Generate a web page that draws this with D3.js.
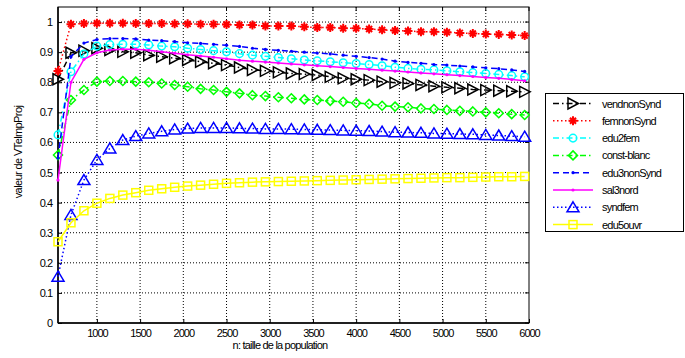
<!DOCTYPE html>
<html>
<head>
<meta charset="utf-8">
<script src="https://cdn.jsdelivr.net/npm/d3@7"></script>
<style>
  html, body { margin: 0; padding: 0; background: #fff; }
  svg { display: block; }
  text { font-family: "Liberation Sans", Arial, sans-serif; fill: #000; }
</style>
</head>
<body>
<svg id="chart" width="685" height="358"></svg>
<script>
// ---------- data ----------
const nValues = [550, 700, 850, 1000, 1150, 1300, 1450, 1600, 1750, 1900, 2050, 2200, 2350, 2500, 2650, 2800, 2950, 3100, 3250, 3400, 3550, 3700, 3850, 4000, 4150, 4300, 4450, 4600, 4750, 4900, 5050, 5200, 5350, 5500, 5650, 5800, 5950];

const vendnonSynd = [0.810, 0.898, 0.905, 0.913, 0.907, 0.901, 0.898, 0.890, 0.885, 0.880, 0.874, 0.868, 0.863, 0.857, 0.849, 0.841, 0.838, 0.833, 0.829, 0.827, 0.824, 0.818, 0.813, 0.810, 0.807, 0.802, 0.798, 0.796, 0.791, 0.787, 0.783, 0.780, 0.776, 0.774, 0.772, 0.770, 0.768];
const femnonSynd = [0.837, 0.993, 0.995, 0.996, 0.996, 0.996, 0.995, 0.995, 0.995, 0.994, 0.994, 0.993, 0.993, 0.992, 0.990, 0.990, 0.987, 0.987, 0.987, 0.984, 0.982, 0.982, 0.979, 0.979, 0.977, 0.974, 0.972, 0.970, 0.968, 0.968, 0.966, 0.964, 0.962, 0.960, 0.959, 0.957, 0.955];
const edu2fem = [0.625, 0.835, 0.894, 0.920, 0.925, 0.926, 0.926, 0.924, 0.920, 0.918, 0.913, 0.909, 0.905, 0.901, 0.895, 0.890, 0.886, 0.882, 0.878, 0.874, 0.871, 0.868, 0.865, 0.862, 0.859, 0.855, 0.850, 0.846, 0.843, 0.841, 0.838, 0.835, 0.832, 0.829, 0.826, 0.822, 0.818];
const constBlanc = [0.558, 0.741, 0.774, 0.802, 0.804, 0.804, 0.802, 0.800, 0.796, 0.791, 0.785, 0.778, 0.774, 0.768, 0.763, 0.757, 0.754, 0.750, 0.747, 0.743, 0.741, 0.738, 0.735, 0.731, 0.728, 0.722, 0.719, 0.717, 0.713, 0.711, 0.708, 0.705, 0.703, 0.700, 0.697, 0.694, 0.691];
const edu3nonSynd = [0.548, 0.885, 0.930, 0.942, 0.945, 0.945, 0.944, 0.940, 0.938, 0.935, 0.931, 0.929, 0.926, 0.923, 0.919, 0.913, 0.909, 0.906, 0.903, 0.900, 0.897, 0.894, 0.890, 0.886, 0.882, 0.877, 0.870, 0.866, 0.863, 0.859, 0.857, 0.854, 0.851, 0.848, 0.845, 0.841, 0.836];
const sal3nord = [0.475, 0.800, 0.876, 0.898, 0.907, 0.910, 0.910, 0.906, 0.901, 0.896, 0.891, 0.887, 0.883, 0.878, 0.873, 0.870, 0.867, 0.864, 0.861, 0.858, 0.855, 0.852, 0.849, 0.846, 0.843, 0.840, 0.837, 0.834, 0.831, 0.828, 0.825, 0.822, 0.819, 0.816, 0.813, 0.809, 0.805];
const syndfem = [0.154, 0.359, 0.475, 0.542, 0.580, 0.608, 0.621, 0.630, 0.637, 0.643, 0.646, 0.648, 0.648, 0.648, 0.647, 0.646, 0.645, 0.645, 0.644, 0.643, 0.642, 0.641, 0.640, 0.639, 0.638, 0.636, 0.634, 0.633, 0.632, 0.630, 0.629, 0.628, 0.627, 0.625, 0.623, 0.621, 0.619];
const edu5ouvr = [0.270, 0.333, 0.373, 0.398, 0.414, 0.425, 0.433, 0.441, 0.446, 0.451, 0.455, 0.458, 0.461, 0.464, 0.466, 0.468, 0.469, 0.470, 0.471, 0.472, 0.473, 0.474, 0.475, 0.476, 0.477, 0.478, 0.479, 0.480, 0.481, 0.482, 0.483, 0.483, 0.484, 0.485, 0.486, 0.486, 0.487];

const seriesNames = ["vendnonSynd", "femnonSynd", "edu2fem", "const-blanc", "edu3nonSynd", "sal3nord", "syndfem", "edu5ouvr"];
const seriesValues = [vendnonSynd, femnonSynd, edu2fem, constBlanc, edu3nonSynd, sal3nord, syndfem, edu5ouvr];

const xTicks = [1000, 1500, 2000, 2500, 3000, 3500, 4000, 4500, 5000, 5500, 6000];
const yTicks = [0, 0.1, 0.2, 0.3, 0.4, 0.5, 0.6, 0.7, 0.8, 0.9, 1];
const xLabel = "n: taille de la population";
const yLabel = "valeur de VTelmpProj";

// ---------- styles ----------
const styles = [
  { color: "#000000", dash: "6,3,1.5,3", marker: "triRight" },
  { color: "#ff0000", dash: "1.5,2.5",  marker: "star" },
  { color: "#00ffff", dash: "6,3,1.5,3", marker: "circle" },
  { color: "#00ff00", dash: "6,3,1.5,3", marker: "diamond" },
  { color: "#0000ff", dash: "6,4",       marker: "dot" },
  { color: "#ff00ff", dash: null,        marker: "dot" },
  { color: "#0000ff", dash: "1.5,2.5",  marker: "triUp" },
  { color: "#ffff00", dash: null,        marker: "square" }
];

// ---------- layout ----------
const L = 58, R = 529, T = 7, B = 323;
const svg = d3.select("#chart");

const x = d3.scaleLinear().domain([550, 6000]).range([L, R]);
const y = d3.scaleLinear().domain([0, 1.05]).range([B, T]);

// grid
const grid = svg.append("g");
grid.selectAll("line.gx").data(xTicks.filter(t => t < 6000)).enter().append("line")
  .attr("x1", d => x(d)).attr("x2", d => x(d)).attr("y1", T).attr("y2", B)
  .attr("stroke", "#000").attr("stroke-width", 1).attr("stroke-dasharray", "1,2");
grid.selectAll("line.gy").data(yTicks.filter(t => t > 0)).enter().append("line")
  .attr("x1", L).attr("x2", R).attr("y1", d => y(d)).attr("y2", d => y(d))
  .attr("stroke", "#000").attr("stroke-width", 1).attr("stroke-dasharray", "1,2");

// axes
const xAxis = d3.axisBottom(x).tickValues(xTicks).tickSize(-4).tickPadding(8).tickFormat(d3.format("d"));
const yAxis = d3.axisLeft(y).tickValues(yTicks).tickSize(-4).tickPadding(6).tickFormat(d3.format("~g"));

const gx = svg.append("g").attr("transform", `translate(0,${B})`).call(xAxis);
const gy = svg.append("g").attr("transform", `translate(${L},0)`).call(yAxis);
[gx, gy].forEach(g => {
  g.select(".domain").remove();
  g.selectAll(".tick line").attr("stroke", "#000");
  g.selectAll(".tick text").attr("font-size", 11).attr("letter-spacing", "-1px")
    .attr("font-family", "'Liberation Sans', Arial, sans-serif").attr("fill", "#000");
});
gx.selectAll(".tick text").attr("dy", "0.55em");

// top/right tick marks
svg.append("g").selectAll("line").data(xTicks).enter().append("line")
  .attr("x1", d => x(d)).attr("x2", d => x(d)).attr("y1", T).attr("y2", T + 4).attr("stroke", "#000");
svg.append("g").selectAll("line").data(yTicks).enter().append("line")
  .attr("x1", R - 4).attr("x2", R).attr("y1", d => y(d)).attr("y2", d => y(d)).attr("stroke", "#000");

// frame
svg.append("rect").attr("x", L).attr("y", T).attr("width", R - L).attr("height", B - T)
  .attr("fill", "none").attr("stroke", "#000").attr("stroke-width", 1);
svg.append("line").attr("x1", L).attr("x2", R).attr("y1", B).attr("y2", B).attr("stroke", "#000").attr("stroke-width", 1.5);
svg.append("line").attr("x1", L).attr("x2", L).attr("y1", T).attr("y2", B).attr("stroke", "#000").attr("stroke-width", 1.5);

// marker drawing
function drawMarker(g, type, color, cx, cy) {
  const sw = 1.5;
  if (type === "triRight") {
    g.append("path").attr("d", `M${cx-5},${cy-5.5}L${cx+5.5},${cy}L${cx-5},${cy+5.5}Z`)
      .attr("fill", "none").attr("stroke", color).attr("stroke-width", sw);
  } else if (type === "triUp") {
    g.append("path").attr("d", `M${cx},${cy-5.5}L${cx+6},${cy+4.5}L${cx-6},${cy+4.5}Z`)
      .attr("fill", "none").attr("stroke", color).attr("stroke-width", sw);
  } else if (type === "circle") {
    g.append("circle").attr("cx", cx).attr("cy", cy).attr("r", 3.8)
      .attr("fill", "none").attr("stroke", color).attr("stroke-width", sw);
  } else if (type === "diamond") {
    g.append("path").attr("d", `M${cx},${cy-4.5}L${cx+4.5},${cy}L${cx},${cy+4.5}L${cx-4.5},${cy}Z`)
      .attr("fill", "none").attr("stroke", color).attr("stroke-width", sw);
  } else if (type === "square") {
    g.append("rect").attr("x", cx - 4).attr("y", cy - 4).attr("width", 8).attr("height", 8)
      .attr("fill", "none").attr("stroke", color).attr("stroke-width", sw);
  } else if (type === "star") {
    g.append("path").attr("d", `M${cx-4.5},${cy}L${cx+4.5},${cy}M${cx},${cy-4.5}L${cx},${cy+4.5}M${cx-3},${cy-3}L${cx+3},${cy+3}M${cx-3},${cy+3}L${cx+3},${cy-3}`)
      .attr("fill", "none").attr("stroke", color).attr("stroke-width", 2);
  } else if (type === "dot") {
    g.append("circle").attr("cx", cx).attr("cy", cy).attr("r", 1.6).attr("fill", color);
  }
}

// series
const line = d3.line().x((d, i) => x(nValues[i])).y(d => y(d));
const plot = svg.append("g");
seriesValues.forEach((vals, si) => {
  const st = styles[si];
  const g = plot.append("g");
  const p = g.append("path").attr("d", line(vals)).attr("fill", "none")
    .attr("stroke", st.color).attr("stroke-width", 1.5);
  if (st.dash) p.attr("stroke-dasharray", st.dash);
  vals.forEach((v, i) => drawMarker(g, st.marker, st.color, x(nValues[i]), y(v)));
});

// axis labels
svg.append("text").attr("x", 280).attr("y", 349).attr("text-anchor", "middle")
  .attr("font-size", 11).attr("letter-spacing", "-0.8px").text(xLabel);
svg.append("text").attr("transform", "translate(22,152) rotate(-90)").attr("text-anchor", "middle")
  .attr("font-size", 11).attr("letter-spacing", "-0.6px").text(yLabel);

// legend
const lg = svg.append("g");
lg.append("rect").attr("x", 545.5).attr("y", 93.5).attr("width", 138).attr("height", 138)
  .attr("fill", "#fff").attr("stroke", "#000").attr("stroke-width", 1);
seriesNames.forEach((name, i) => {
  const st = styles[i];
  const ly = 103.5 + i * 17.3;
  const gl = lg.append("g");
  const ln = gl.append("line").attr("x1", 553).attr("x2", 593).attr("y1", ly).attr("y2", ly)
    .attr("stroke", st.color).attr("stroke-width", 1.5);
  if (st.dash) ln.attr("stroke-dasharray", st.dash);
  drawMarker(gl, st.marker, st.color, 573, ly);
  gl.append("text").attr("x", 602).attr("y", ly + 4).attr("font-size", 11)
    .attr("letter-spacing", "-0.8px").text(name);
});
</script>
</body>
</html>
